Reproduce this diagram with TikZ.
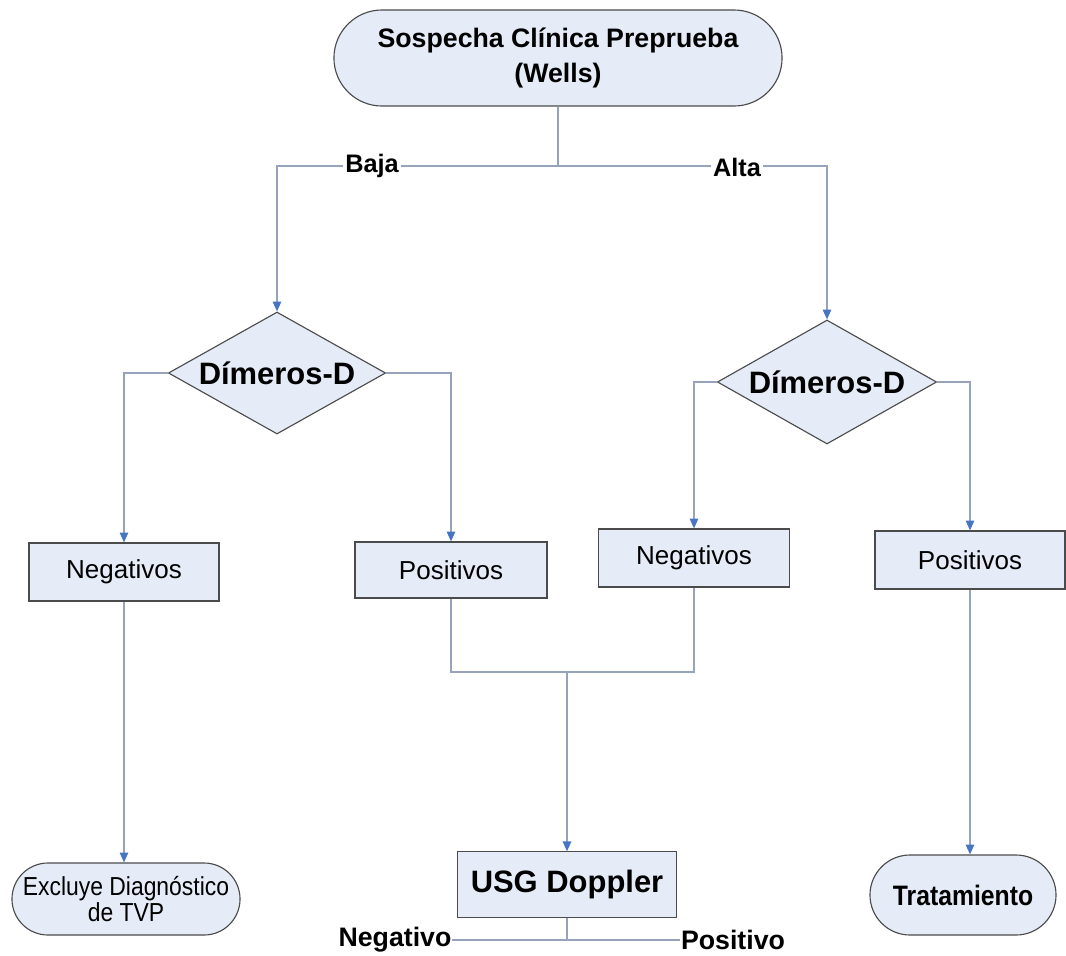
\documentclass[tikz,border=0pt]{standalone}
\usepackage{fontspec}
\setmainfont{Liberation Sans}
\newfontfamily\angosta[FakeStretch=0.88]{Liberation Sans}
\usetikzlibrary{shapes.geometric, shapes.misc, arrows.meta}

\definecolor{relleno}{RGB}{229,236,247}
\definecolor{borde}{RGB}{75,75,75}
\definecolor{gris}{RGB}{150,163,186}
\definecolor{punta}{RGB}{72,116,196}

\tikzset{
  caja/.style={draw=borde, fill=relleno, line width=0.8pt, rectangle, inner sep=0pt},
  terminal/.style={draw=borde, fill=relleno, line width=0.8pt, rounded rectangle, inner sep=0pt, align=center},
  decision/.style={draw=borde, fill=relleno, line width=0.8pt, diamond, aspect=1.78, inner sep=0pt},
  conector/.style={draw=gris, line width=1pt},
  flecha/.style={conector, -{Triangle[length=7pt, width=6pt, color=punta]}},
  etiqueta/.style={fill=white, inner sep=1.5pt, font=\bfseries\fontsize{18}{20}\selectfont}
}

\begin{document}
\begin{tikzpicture}[x=0.025cm, y=-0.025cm]
\useasboundingbox (0,0) rectangle (1066,955);

% Sospecha inicial
\node[terminal, minimum width=11.2cm, minimum height=2.4cm,
      font=\bfseries\fontsize{19}{25.5}\selectfont] (wells) at (558,58)
  {Sospecha Clínica Preprueba\\(Wells)};

% Dímeros-D (baja y alta)
\node[decision, minimum width=5.43cm, minimum height=3.05cm,
      font=\bfseries\fontsize{22}{24}\selectfont] (dimB) at (277,373) {Dímeros-D};
\node[decision, minimum width=5.48cm, minimum height=3.1cm,
      font=\bfseries\fontsize{22}{24}\selectfont] (dimA) at (827,382) {Dímeros-D};

% Resultados
\node[caja, minimum width=4.75cm, minimum height=1.45cm,
      font=\fontsize{18.5}{20}\selectfont] (negB) at (124,572) {Negativos};
\node[caja, minimum width=4.8cm, minimum height=1.4cm,
      font=\fontsize{18.5}{20}\selectfont] (posB) at (451,570) {Positivos};
\node[caja, minimum width=4.78cm, minimum height=1.45cm,
      font=\fontsize{18.5}{20}\selectfont] (negA) at (694,558) {Negativos};
\node[caja, minimum width=4.75cm, minimum height=1.45cm,
      font=\fontsize{18.5}{20}\selectfont] (posA) at (970,560) {Positivos};

% Finales
\node[terminal, minimum width=5.7cm, minimum height=1.8cm,
      font=\angosta\fontsize{18.5}{18.5}\selectfont] (excluye) at (126,899)
  {Excluye Diagnóstico\\de TVP};
\node[caja, minimum width=5.48cm, minimum height=1.63cm,
      font=\bfseries\fontsize{22}{24}\selectfont] (usg) at (567,884.5) {USG Doppler};
\node[terminal, minimum width=4.65cm, minimum height=2cm,
      font=\angosta\bfseries\fontsize{20}{22}\selectfont] (trat) at (963,895) {Tratamiento};

% Ramas Baja / Alta
\coordinate (bif) at (558,166);
\draw[conector] (wells.south) -- (bif);
\draw[flecha] (bif) -| (dimB.north);
\draw[flecha] (bif) -| (dimA.north);
\node[etiqueta] (baja) at (372,166) {Baja};
\node[etiqueta] (alta) at (737,167) {Alta};

% Salidas de los rombos
\draw[flecha] (dimB.west) -| (negB.north);
\draw[flecha] (dimB.east) -| (posB.north);
\draw[flecha] (dimA.west) -| (negA.north);
\draw[flecha] (dimA.east) -| (posA.north);

% Hacia los finales
\draw[flecha] (negB.south) -- (negB.south |- excluye.north);
\draw[flecha] (posA.south) -- (posA.south |- trat.north);

% Union hacia USG Doppler
\coordinate (union) at (567,672);
\draw[conector] (posB.south) |- (union) -| (negA.south);
\draw[flecha] (union) -- (usg.north);

% Resultado del Doppler
\node[etiqueta, font=\bfseries\fontsize{19}{21}\selectfont, inner sep=0.5pt] (negU) at (395,940) {Negativo};
\node[etiqueta, font=\bfseries\fontsize{19}{21}\selectfont, inner sep=0.5pt] (posU) at (733,940) {Positivo};
\coordinate (rama) at (567,940);
\draw[conector] (usg.south) -- (rama);
\draw[conector] (negU.east) -- (posU.west);

\end{tikzpicture}
\end{document}
